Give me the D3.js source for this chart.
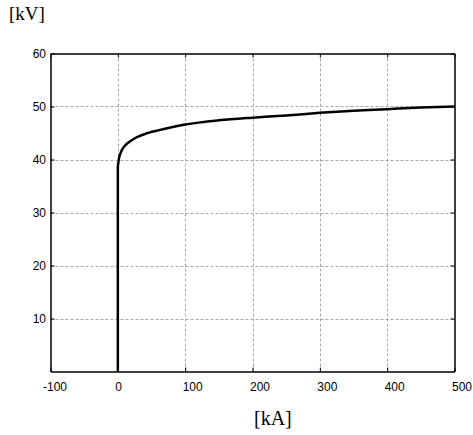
<!DOCTYPE html>
<html>
<head>
<meta charset="utf-8">
<script src="https://cdn.jsdelivr.net/npm/d3@7"></script>
<style>
  body { margin: 0; background: #fff; }
  svg { display: block; }
  .tick text { font-family: "Liberation Sans", Arial, sans-serif; font-size: 12px; fill: #000; }
  .unit { font-family: "Liberation Serif", "Times New Roman", serif; fill: #000; }
</style>
</head>
<body>
<svg width="473" height="435"></svg>
<script>
// current [kA] vs voltage [kV]
var current = [0, 0, 1, 2, 4, 7, 12, 19, 28, 40, 60, 80, 100, 150, 200, 250, 300, 350, 400, 450, 500];
var voltage = [0, 38.5, 39.6, 40.4, 41.2, 42.0, 42.8, 43.5, 44.2, 44.8, 45.5, 46.1, 46.6, 47.4, 47.9, 48.3, 48.8, 49.2, 49.5, 49.8, 50.0];

var xTicks = [-100, 0, 100, 200, 300, 400, 500];
var yTicks = [10, 20, 30, 40, 50, 60];

var svg = d3.select("svg");
var pLeft = 50.5, pRight = 454.5, pTop = 53.5, pBottom = 371.5;

var x = d3.scaleLinear().domain([-100, 500]).range([pLeft, pRight]);
var y = d3.scaleLinear().domain([0, 60]).range([pBottom, pTop]);

// grid
var grid = svg.append("g")
    .attr("stroke", "#a8a8a8")
    .attr("stroke-width", 1)
    .attr("stroke-dasharray", "3,2");
grid.selectAll(".vx")
    .data(xTicks.slice(1, -1))
  .enter().append("line")
    .attr("x1", function(d) { return Math.round(x(d)) + 0.5; })
    .attr("x2", function(d) { return Math.round(x(d)) + 0.5; })
    .attr("y1", pTop)
    .attr("y2", pBottom);
grid.selectAll(".hy")
    .data(yTicks.slice(0, -1))
  .enter().append("line")
    .attr("y1", function(d) { return Math.round(y(d)) + 0.5; })
    .attr("y2", function(d) { return Math.round(y(d)) + 0.5; })
    .attr("x1", pLeft)
    .attr("x2", pRight);

// axes (ticks inward, mirrored on top/right)
var xAxis = svg.append("g")
    .attr("transform", "translate(0," + pBottom + ")")
    .call(d3.axisBottom(x).tickValues(xTicks).tickSizeInner(-4).tickSizeOuter(0)
        .tickFormat(function(d) { return String(d); }));
xAxis.selectAll(".tick text")
    .attr("y", 11)
    .attr("text-anchor", "start")
    .attr("dx", function(d) { return d < 0 ? -8 : -3; });

var yAxis = svg.append("g")
    .attr("transform", "translate(" + pLeft + ",0)")
    .call(d3.axisLeft(y).tickValues(yTicks).tickSizeInner(-4).tickSizeOuter(0));
yAxis.selectAll(".tick text").attr("x", -4.5);

svg.append("g")
    .attr("transform", "translate(0," + pTop + ")")
    .call(d3.axisTop(x).tickValues(xTicks).tickSizeInner(-4).tickSizeOuter(0).tickFormat(""));
svg.append("g")
    .attr("transform", "translate(" + pRight + ",0)")
    .call(d3.axisRight(y).tickValues(yTicks).tickSizeInner(-4).tickSizeOuter(0).tickFormat(""));

svg.selectAll(".domain").attr("stroke", "#000").attr("stroke-width", 1.5);
svg.selectAll(".tick line").attr("stroke", "#000");

// curve
var pts = current.map(function(c, i) { return [c, voltage[i]]; });
svg.append("path")
    .datum(pts)
    .attr("fill", "none")
    .attr("stroke", "#000")
    .attr("stroke-width", 2.5)
    .attr("stroke-linejoin", "round")
    .attr("d", d3.line()
        .x(function(d) { return x(d[0]); })
        .y(function(d) { return y(d[1]); })
        .curve(d3.curveMonotoneX));

// units
svg.append("text").attr("class", "unit").attr("x", 9).attr("y", 20)
    .style("font-size", "19px").text("[kV]");
svg.append("text").attr("class", "unit").attr("x", 254).attr("y", 425)
    .style("font-size", "20px").text("[kA]");
</script>
</body>
</html>
